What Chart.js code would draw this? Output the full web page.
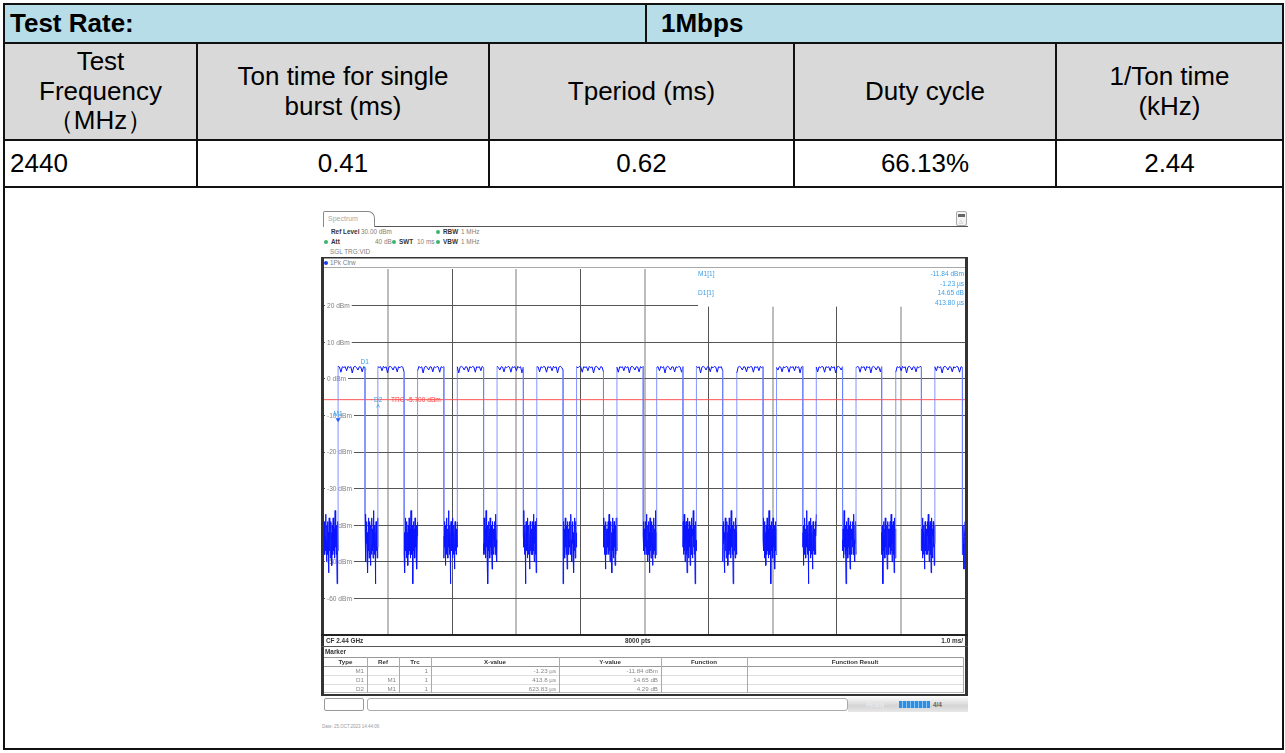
<!DOCTYPE html>
<html><head><meta charset="utf-8">
<script src="https://cdn.jsdelivr.net/npm/chart.js@4.4.1/dist/chart.umd.min.js"></script>
<style>
*{box-sizing:border-box}
html,body{margin:0;padding:0;background:#fff}
body{width:1285px;height:753px;position:relative;overflow:hidden;font-family:"Liberation Sans",Arial,sans-serif;color:#000}
.a{position:absolute}
.ln{position:absolute;background:#111}
.cell{position:absolute;display:flex;align-items:center;justify-content:center;text-align:center;font-size:26px;line-height:29.5px}
.hd{position:absolute;display:flex;align-items:center;font-size:26px;font-weight:bold}
.s{position:absolute;font-family:"Liberation Sans",sans-serif;font-size:6.4px;line-height:7px;color:#808080;white-space:nowrap}
.b{font-weight:bold;color:#333}
.dot{position:absolute;width:4px;height:4px;border-radius:50%;background:#3cb371}
.mt{position:absolute;font-family:"Liberation Sans",sans-serif;font-size:6.2px;line-height:8px;color:#888;white-space:nowrap;overflow:hidden}
</style></head><body>

<!-- table backgrounds -->
<div class="a" style="left:4px;top:4px;width:1279px;height:39px;background:#b7dde8"></div>
<div class="a" style="left:4px;top:43px;width:1279px;height:97px;background:#d9d9d9"></div>
<!-- table lines -->
<div class="ln" style="left:3px;top:3px;width:1281px;height:2px"></div>
<div class="ln" style="left:3px;top:42px;width:1281px;height:2px"></div>
<div class="ln" style="left:3px;top:139px;width:1281px;height:2px"></div>
<div class="ln" style="left:3px;top:186px;width:1281px;height:2px"></div>
<div class="ln" style="left:3px;top:748px;width:1281px;height:2px"></div>
<div class="ln" style="left:3px;top:3px;width:2px;height:747px"></div>
<div class="ln" style="left:1282px;top:3px;width:2px;height:747px"></div>
<div class="ln" style="left:645px;top:3px;width:2px;height:41px"></div>
<div class="ln" style="left:196px;top:42px;width:2px;height:146px"></div>
<div class="ln" style="left:488px;top:42px;width:2px;height:146px"></div>
<div class="ln" style="left:793px;top:42px;width:2px;height:146px"></div>
<div class="ln" style="left:1055px;top:42px;width:2px;height:146px"></div>

<div class="hd" style="left:10px;top:4px;height:39px">Test Rate:</div>
<div class="hd" style="left:661px;top:4px;height:39px">1Mbps</div>

<div class="cell" style="left:4px;top:43px;width:193px;height:97px">Test<br>Frequency<br>（MHz）</div>
<div class="cell" style="left:197px;top:43px;width:292px;height:97px">Ton time for single<br>burst (ms)</div>
<div class="cell" style="left:489px;top:43px;width:305px;height:97px">Tperiod (ms)</div>
<div class="cell" style="left:794px;top:43px;width:262px;height:97px">Duty cycle</div>
<div class="cell" style="left:1056px;top:43px;width:227px;height:97px">1/Ton time<br>(kHz)</div>

<div class="cell" style="left:10px;top:140px;height:47px;justify-content:flex-start">2440</div>
<div class="cell" style="left:197px;top:140px;width:292px;height:47px">0.41</div>
<div class="cell" style="left:489px;top:140px;width:305px;height:47px">0.62</div>
<div class="cell" style="left:794px;top:140px;width:262px;height:47px">66.13%</div>
<div class="cell" style="left:1056px;top:140px;width:227px;height:47px">2.44</div>

<!-- spectrum screenshot chrome -->
<div class="a" style="left:323px;top:211px;width:52px;height:16px;border:1px solid #888;border-bottom:none;border-top-right-radius:7px;border-top-left-radius:2px"></div>
<div class="s" style="left:328px;top:215px;font-size:7px;color:#aaa">Spectrum</div>
<div class="a" style="left:375px;top:226px;width:593px;height:1px;background:#555"></div>
<div class="a" style="left:956px;top:211px;width:11px;height:15px;border:1px solid #aaa;border-radius:2px;background:#f4f4f4"></div>
<div class="a" style="left:958px;top:214px;width:7px;height:3px;background:#666"></div>
<div class="s" style="left:959px;top:218px;font-size:5px;color:#999">△</div>

<div class="s b" style="left:331px;top:228px">Ref Level</div>
<div class="s" style="left:361px;top:228px">30.00 dBm</div>
<div class="dot" style="left:436px;top:230px"></div>
<div class="s b" style="left:443px;top:228px">RBW</div>
<div class="s" style="left:461px;top:228px">1 MHz</div>

<div class="dot" style="left:324px;top:240px"></div>
<div class="s b" style="left:331px;top:238px">Att</div>
<div class="s" style="left:375px;top:238px">40 dB</div>
<div class="dot" style="left:392px;top:240px"></div>
<div class="s b" style="left:399px;top:238px">SWT</div>
<div class="s" style="left:417px;top:238px">10 ms</div>
<div class="dot" style="left:436px;top:240px"></div>
<div class="s b" style="left:443px;top:238px">VBW</div>
<div class="s" style="left:461px;top:238px">1 MHz</div>

<div class="s" style="left:330px;top:248px">SGL TRG:VID</div>

<div class="a" style="left:321px;top:257px;width:647px;height:1px;background:#333"></div>
<div class="a" style="left:321px;top:258px;width:647px;height:1px;background:#999"></div>
<div class="dot" style="left:324px;top:261px;background:#1a3cf0"></div>
<div class="s" style="left:330px;top:259px">1Pk Clrw</div>
<div class="a" style="left:324px;top:267px;width:641px;height:1px;background:#aaa"></div>

<canvas id="c" class="a" style="left:324px;top:269px" width="641" height="366"></canvas>

<div class="a" style="left:321px;top:257px;width:3px;height:439px;background:#333"></div>
<div class="a" style="left:965px;top:257px;width:3px;height:439px;background:#333"></div>
<div class="a" style="left:321px;top:634px;width:647px;height:2px;background:#222"></div>

<div class="s b" style="left:326px;top:637px">CF 2.44 GHz</div>
<div class="s b" style="left:625px;top:637px">8000 pts</div>
<div class="s b" style="left:935px;top:637px;width:28px;text-align:right">1.0 ms/</div>
<div class="a" style="left:321px;top:646px;width:647px;height:1px;background:#555"></div>
<div class="s b" style="left:325px;top:648px">Marker</div>

<div id="mtab"></div>

<div class="a" style="left:321px;top:694px;width:647px;height:2px;background:#333"></div>

<!-- status bar -->
<div class="a" style="left:324px;top:698px;width:40px;height:13px;border:1px solid #999;border-radius:2px"></div>
<div class="a" style="left:367px;top:698px;width:481px;height:13px;border:1px solid #aaa;border-radius:3px"></div>
<div class="a" style="left:848px;top:697px;width:120px;height:15px;background:linear-gradient(to bottom,#fafafa,#d4d4d4 60%,#e8e8e8)"></div>
<div class="s" style="left:866px;top:701px;color:#eee">Ready</div>
<div class="a" style="left:899px;top:701px;width:31px;height:7px;background:repeating-linear-gradient(to right,#2b8fe6 0,#2b8fe6 3px,#8cc4f2 3px,#8cc4f2 4px)"></div>
<div class="s b" style="left:933px;top:701px;color:#666">4/4</div>
<div class="s" style="left:322px;top:723px;font-size:4.5px;color:#999">Date: 25.OCT.2023 14:44:06</div>

<script>
// ---------- data ----------
const riseMs = [0.22, 0.84, 1.46, 2.08, 2.70, 3.32, 3.94, 4.57, 5.19, 5.81, 6.44, 7.06, 7.68, 8.30, 8.92, 9.53];
const fallMs = [0.64, 1.25, 1.87, 2.49, 3.11, 3.73, 4.36, 4.98, 5.60, 6.22, 6.85, 7.47, 8.09, 8.70, 9.32, 9.96];
const onLevelDbm = [3.4, 3.2, 1.8, 3.3, 3.1, 3.3, 2.2, 3.4, 3.0, 3.3, 1.6, 3.2, 3.4, 3.1, 2.4, 3.3, 3.2, 1.9, 3.3, 3.0];
const offNoiseDbm = [-41,-46,-39,-48,-43,-37,-47,-44,-50,-40,-45,-39,-48,-42,-53,-44,-38,-47,-41,-49,-43,-39,-46,-42,-51,-40,-45,-48,-38,-44,-47,-41,-49,-43,-36,-46,-42,-48,-40,-45,-56,-43,-39,-47,-44,-41,-49,-38,-46,-42,-48,-40,-45,-52,-43,-39,-47,-41,-48,-44];
const sweepMs = [0, 10];
const levelRangeDbm = [-70, 30];
const yTickDbm = [20, 10, 0, -10, -20, -30, -40, -50, -60];
const yTickLabels = ['20 dBm','10 dBm','0 dBm','-10 dBm','-20 dBm','-30 dBm','-40 dBm','-50 dBm','-60 dBm'];
const trgLevelDbm = -5.7;
const trgLabel = 'TRG -5.700 dBm';
const markerNames = ['M1', 'D1', 'D2'];
const markerMs = [0.22, 0.634, 0.844];
const markerDbm = [-11.84, 2.81, -7.55];
const readoutNames = ['M1[1]', '', 'D1[1]', ''];
const readoutValues = ['-11.84 dBm', '-1.23 µs', '14.65 dB', '413.80 µs'];
const mtHeaders = ['Type','Ref','Trc','X-value','Y-value','Function','Function Result'];
const mtType = ['M1','D1','D2'];
const mtRef = ['','M1','M1'];
const mtTrc = ['1','1','1'];
const mtX = ['-1.23 µs','413.8 µs','623.83 µs'];
const mtY = ['-11.84 dBm','14.65 dB','4.29 dB'];

// ---------- marker table (html) ----------
(function(){
  const cols = [324,367,399,431,559,661,747,963];
  const rowsTop = [666,675,684];
  const host = document.getElementById('mtab');
  let h = '';
  h += '<div class="a" style="left:324px;top:657px;width:639px;height:1px;background:#999"></div>';
  h += '<div class="a" style="left:324px;top:666px;width:639px;height:1px;background:#999"></div>';
  h += '<div class="a" style="left:324px;top:675px;width:639px;height:1px;background:#ddd"></div>';
  h += '<div class="a" style="left:324px;top:684px;width:639px;height:1px;background:#ddd"></div>';
  h += '<div class="a" style="left:324px;top:692px;width:639px;height:1px;background:#bbb"></div>';
  for (let i=1;i<cols.length;i++){
    h += '<div class="a" style="left:'+cols[i]+'px;top:657px;width:1px;height:36px;background:#aaa"></div>';
  }
  for (let c=0;c<mtHeaders.length;c++){
    h += '<div class="mt b" style="left:'+cols[c]+'px;top:658px;width:'+(cols[c+1]-cols[c])+'px;text-align:center;color:#333">'+mtHeaders[c]+'</div>';
  }
  const colsData = [mtType, mtRef, mtTrc, mtX, mtY];
  for (let r=0;r<3;r++){
    for (let c=0;c<colsData.length;c++){
      h += '<div class="mt" style="left:'+cols[c]+'px;top:'+(rowsTop[r]+0.5)+'px;width:'+(cols[c+1]-cols[c]-3)+'px;text-align:right">'+colsData[c][r]+'</div>';
    }
  }
  host.innerHTML = h;
})();

// ---------- trace from the arrays ----------
const trace = [];
function addNoise(t0, t1, off, n){
  for (let k=0;k<n;k++){
    trace.push({x: t0 + (t1-t0)*k/(n-1), y: offNoiseDbm[(off+k) % offNoiseDbm.length]});
  }
}
addNoise(sweepMs[0], riseMs[0], 0, 44);
for (let i=0;i<riseMs.length;i++){
  const n = onLevelDbm.length;
  for (let k=0;k<n;k++){
    trace.push({x: riseMs[i] + (fallMs[i]-riseMs[i])*k/(n-1), y: onLevelDbm[(k + i*3) % n]});
  }
  const next = i < riseMs.length-1 ? riseMs[i+1] : sweepMs[1];
  const cnt = i < riseMs.length-1 ? 44 : 6;
  addNoise(fallMs[i], next, i*7+5, cnt);
}

const BLUE_LT = '#3c9fe6';
const overlay = {
  id: 'overlay',
  beforeDatasetsDraw(chart){
    const {ctx, scales:{x, y}, chartArea:a} = chart;
    ctx.save();
    const y20 = y.getPixelForValue(20);
    ctx.fillStyle = '#fff';
    ctx.fillRect(a.left + 374, a.top, a.right - a.left - 374, y20 - a.top + 1);
    ctx.font = '6.6px "Liberation Sans",sans-serif';
    ctx.textBaseline = 'middle';
    for (let i=0;i<yTickDbm.length;i++){
      const py = y.getPixelForValue(yTickDbm[i]);
      const w = ctx.measureText(yTickLabels[i]).width;
      ctx.fillStyle = '#fff';
      ctx.fillRect(a.left + 1, py - 3.5, w + 4, 7);
      ctx.fillStyle = '#808080';
      ctx.fillText(yTickLabels[i], a.left + 3, py + 0.5);
    }
    const pt = y.getPixelForValue(trgLevelDbm);
    const tx = a.left + 67;
    const tw = ctx.measureText(trgLabel).width;
    ctx.fillStyle = '#fff';
    ctx.fillRect(tx - 2, pt - 3.5, tw + 4, 7);
    ctx.fillStyle = '#ff3c3c';
    ctx.fillText(trgLabel, tx, pt + 0.5);
    ctx.restore();
  },
  afterDatasetsDraw(chart){
    const {ctx, scales:{x, y}, chartArea:a} = chart;
    ctx.save();
    ctx.font = '6.6px "Liberation Sans",sans-serif';
    ctx.textBaseline = 'middle';
    for (let i=0;i<readoutValues.length;i++){
      const py = a.top + 5 + i*9.7;
      ctx.fillStyle = BLUE_LT;
      ctx.textAlign = 'left';
      if (readoutNames[i]) ctx.fillText(readoutNames[i], a.left + 374, py);
      ctx.textAlign = 'right';
      ctx.fillText(readoutValues[i], a.right - 1, py);
    }
    ctx.textAlign = 'center';
    for (let i=0;i<markerNames.length;i++){
      const px = x.getPixelForValue(markerMs[i]);
      const py = y.getPixelForValue(markerDbm[i]);
      if (i === 0){
        ctx.fillStyle = '#1f5cff';
        ctx.beginPath();
        ctx.moveTo(px - 2.5, py - 4); ctx.lineTo(px + 2.5, py - 4); ctx.lineTo(px, py); ctx.closePath();
        ctx.fill();
        ctx.fillStyle = BLUE_LT;
        ctx.fillText(markerNames[i], px, py - 8);
      } else {
        ctx.strokeStyle = BLUE_LT; ctx.lineWidth = 0.8;
        ctx.beginPath();
        ctx.moveTo(px - 1.5, py + 1); ctx.lineTo(px, py - 2); ctx.lineTo(px + 1.5, py + 1);
        ctx.stroke();
        ctx.fillStyle = BLUE_LT;
        ctx.fillText(markerNames[i], px, py - 6);
      }
    }
    ctx.restore();
  }
};

new Chart(document.getElementById('c'), {
  type: 'line',
  data: {
    datasets: [
      {
        data: trace,
        parsing: false,
        borderWidth: 1,
        borderColor: '#0a14ff',
        pointRadius: 0,
        tension: 0,
        segment: {
          borderColor: c => Math.abs(c.p0.parsed.y - c.p1.parsed.y) > 20 ? 'rgba(110,128,255,0.85)' : '#0a14ff'
        }
      },
      {
        data: sweepMs.map(t => ({x: t, y: trgLevelDbm})),
        parsing: false,
        borderWidth: 1,
        borderColor: '#ff5555',
        pointRadius: 0
      }
    ]
  },
  options: {
    responsive: false,
    animation: false,
    devicePixelRatio: 1,
    layout: {padding: 0, autoPadding: false},
    plugins: {legend: {display: false}, tooltip: {enabled: false}},
    events: [],
    scales: {
      x: {
        type: 'linear', min: sweepMs[0], max: sweepMs[1],
        ticks: {display: false, stepSize: 1},
        border: {display: false},
        grid: {
          drawTicks: false,
          color: c => (c.index === 0 || c.index === 10) ? 'rgba(0,0,0,0)' : (c.index % 2 ? '#bdbdbd' : '#555'),
          lineWidth: c => (c.index % 2 ? 2 : 1)
        },
        afterFit: s => { s.height = 0; }
      },
      y: {
        type: 'linear', min: levelRangeDbm[0], max: levelRangeDbm[1],
        ticks: {display: false, stepSize: 10},
        border: {display: false},
        grid: {
          drawTicks: false,
          color: c => (c.tick.value === levelRangeDbm[1] || c.tick.value === levelRangeDbm[0]) ? 'rgba(0,0,0,0)' : '#555',
          lineWidth: 1
        },
        afterFit: s => { s.width = 0; }
      }
    }
  },
  plugins: [overlay]
});
</script>
</body></html>
